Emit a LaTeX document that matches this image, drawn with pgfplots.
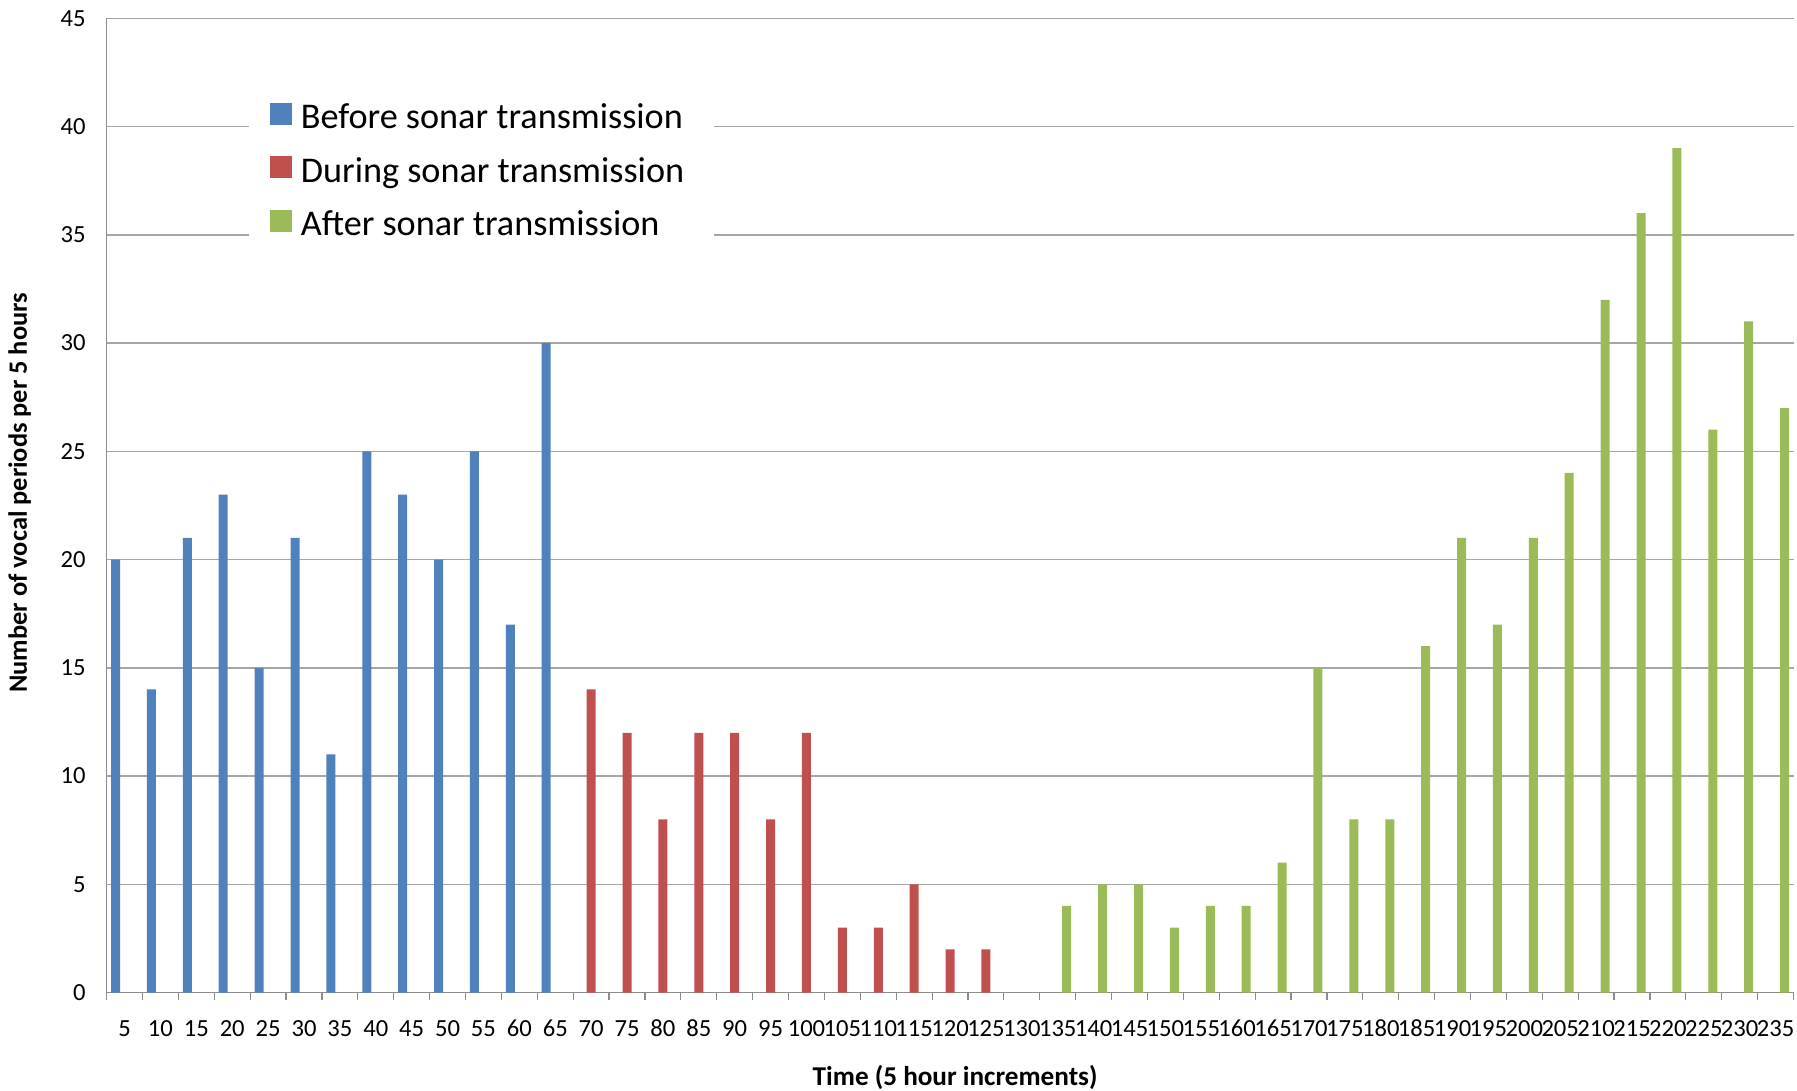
\documentclass[border=0pt]{standalone}
\usepackage{pgfplots}
\pgfplotsset{compat=1.18}
\usepackage{fontspec}
\setmainfont{Carlito}
\definecolor{cblue}{HTML}{4F81BD}
\definecolor{cred}{HTML}{C0504D}
\definecolor{cgreen}{HTML}{9BBB59}
\definecolor{gridgray}{HTML}{A6A6A6}
\definecolor{axisgray}{HTML}{8C8C8C}
\pgfplotsset{
  sqlegend/.style={legend image code/.code={\fill[##1] (0pt,-2.4pt) rectangle (11pt,8.6pt);}}
}
\begin{document}
\begin{tikzpicture}
\useasboundingbox (-53.3pt,-49.2pt) rectangle (845.2pt,496.3pt);
\begin{axis}[
  scale only axis, width=843.45pt, height=487.15pt,
  xmin=-0.5, xmax=46.5, ymin=0, ymax=45,
  ytick={0,5,...,45},
  xtick={0,...,46},
  xticklabels={5,10,15,20,25,30,35,40,45,50,55,60,65,70,75,80,85,90,95,100,105,110,115,120,125,130,135,140,145,150,155,160,165,170,175,180,185,190,195,200,205,210,215,220,225,230,235},
  minor xtick={-0.5,0.5,...,46.5},
  axis lines=left,
  axis line style={-, draw=axisgray, line width=0.75pt},
  ymajorgrids, grid style={gridgray, line width=0.75pt},
  major tick length=0pt, minor tick length=3.5pt, tick align=outside,
  minor tick style={axisgray, line width=0.6pt},
  ybar=0pt, bar width=4.5pt,
  /pgf/number format/assume math mode=true,
  ticklabel style={font=\fontsize{12.3}{14}\selectfont, text=black},
  xticklabel style={anchor=base, yshift=-21.75pt},
  yticklabel style={anchor=east, inner sep=0pt, xshift=-10.3pt},
  xlabel={Time (5 hour increments)},
  ylabel={Number of vocal periods per 5 hours},
  every axis x label/.style={at={(axis description cs:0.503,-0.0866)}, anchor=center, font=\fontsize{13.6}{15}\selectfont\bfseries},
  every axis y label/.style={at={(axis description cs:-0.0515,0.513)}, anchor=center, rotate=90, font=\fontsize{13.2}{15}\selectfont\bfseries},
  legend style={at={(axis description cs:0.0844,0.932)}, anchor=north west, draw=none, fill=white,
    font=\fontsize{18.1}{21}\selectfont, inner xsep=10.5pt, inner ysep=4pt, row sep=0pt,
    nodes={text height=13pt, text depth=4.5pt, inner xsep=4.25pt, inner ysep=4.7pt}},
  legend cell align=left,
]
\addplot[fill=cblue, draw=none, sqlegend] coordinates {
(0,20) (1,14) (2,21) (3,23) (4,15) (5,21) (6,11) (7,25) (8,23) (9,20) (10,25) (11,17) (12,30)};
\addlegendentry{Before sonar transmission}
\addplot[fill=cred, draw=none, sqlegend] coordinates {
(13,14) (14,12) (15,8) (16,12) (17,12) (18,8) (19,12) (20,3) (21,3) (22,5) (23,2) (24,2) (25,0)};
\addlegendentry{During sonar transmission}
\addplot[fill=cgreen, draw=none, sqlegend] coordinates {
(26,4) (27,5) (28,5) (29,3) (30,4) (31,4) (32,6) (33,15) (34,8) (35,8) (36,16) (37,21) (38,17) (39,21) (40,24) (41,32) (42,36) (43,39) (44,26) (45,31) (46,27)};
\addlegendentry{After sonar transmission}
\end{axis}
\end{tikzpicture}
\end{document}
